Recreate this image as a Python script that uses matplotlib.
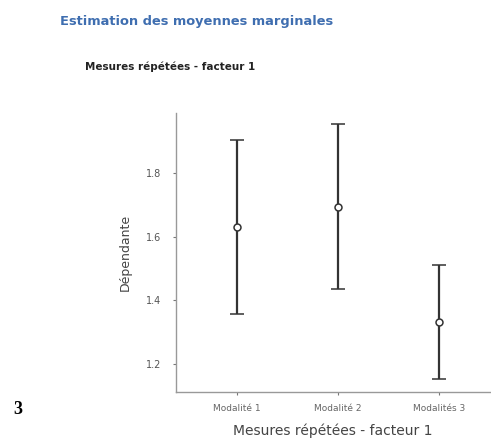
import matplotlib.pyplot as plt

categories = ['Modalité 1', 'Modalité 2', 'Modalités 3']
means = [1.632, 1.694, 1.330]
lower = [1.357, 1.436, 1.151]
upper = [1.906, 1.954, 1.510]
yticks = [1.2, 1.4, 1.6, 1.8]

fig = plt.figure(figsize=(4.91, 4.40), dpi=100)
ax = fig.add_axes([0.3585, 0.109, 0.6395, 0.634])

x = list(range(len(categories)))
err_lo = [m - l for m, l in zip(means, lower)]
err_hi = [u - m for m, u in zip(means, upper)]
ax.errorbar(x, means, yerr=[err_lo, err_hi], fmt='o', color='#333333',
            ecolor='#333333', elinewidth=1.6, capsize=5, capthick=1.6,
            markersize=5, markerfacecolor='white', markeredgecolor='#333333',
            markeredgewidth=1.1, zorder=3)

ax.set_xlim(-0.6, 2.5)
ax.set_ylim(1.11, 1.99)
ax.set_xticks(x)
ax.set_xticklabels(categories, fontsize=6.5, color='#666666')
ax.set_yticks(yticks)
ax.set_yticklabels([f'{v:.1f}' for v in yticks], fontsize=7, color='#555555')
ax.tick_params(length=2.5, width=0.8, color='#777777')
ax.tick_params(axis='y', pad=8)
ax.tick_params(axis='x', pad=6)
for s in ['top', 'right']:
    ax.spines[s].set_visible(False)
for s in ['left', 'bottom']:
    ax.spines[s].set_color('#999999')
    ax.spines[s].set_linewidth(1.0)

ax.set_xlabel('Mesures répétées - facteur 1', fontsize=10, color='#444444', labelpad=8)
ax.set_ylabel('Dépendante', fontsize=9, color='#444444', labelpad=10)

fig.text(60 / 491, 1 - 21 / 440, 'Estimation des moyennes marginales',
         fontsize=9.4, fontweight='bold', color='#3f6eb0', va='center', ha='left')
fig.text(85 / 491, 1 - 67 / 440, 'Mesures répétées - facteur 1',
         fontsize=7.5, fontweight='bold', color='#222222', va='center', ha='left')
fig.text(13 / 491, 1 - 409 / 440, '3', fontsize=13, fontweight='bold',
         family='Liberation Serif', color='black', va='center', ha='left')

fig.savefig('out.png', dpi=100)
